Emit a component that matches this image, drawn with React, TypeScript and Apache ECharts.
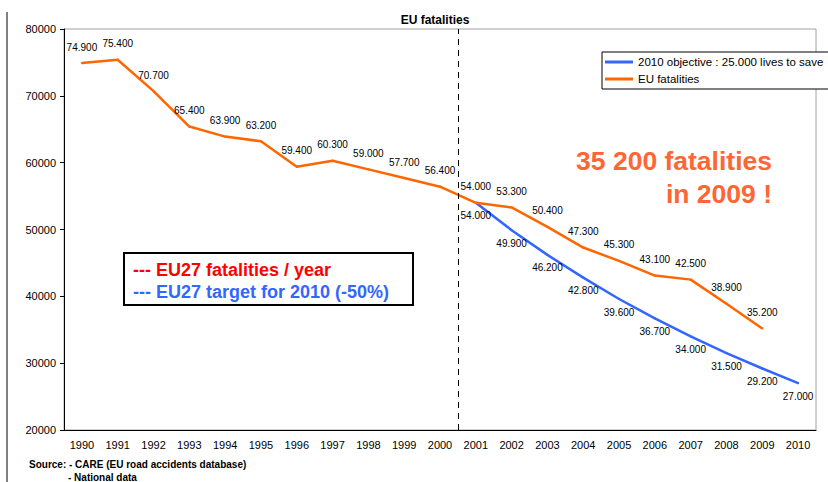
import React, { useEffect, useRef } from "react";
import * as echarts from "echarts";

const years = ["1990","1991","1992","1993","1994","1995","1996","1997","1998","1999","2000","2001","2002","2003","2004","2005","2006","2007","2008","2009","2010"];
const euFatalities: (number | null)[] = [74900,75400,70700,65400,63900,63200,59400,60300,59000,57700,56400,54000,53300,50400,47300,45300,43100,42500,38900,35200,null];
const objective2010: (number | null)[] = [null,null,null,null,null,null,null,null,null,null,null,54000,49900,46200,42800,39600,36700,34000,31500,29200,27000];
const yTicks = { min: 20000, max: 80000, interval: 10000 };

const FONT = '"Liberation Sans", Arial, sans-serif';
const ORANGE = "#ff6600";
const BLUE = "#3366ff";

const fmt = (v: number) => {
  const s = String(Math.round(v));
  return s.length > 3 ? s.slice(0, s.length - 3) + "." + s.slice(s.length - 3) : s;
};

export default function App() {
  const ref = useRef<HTMLDivElement>(null);
  useEffect(() => {
    document.body.style.margin = "0";
    const chart = echarts.init(ref.current!, null, { renderer: "svg" });
    chart.setOption({
      animation: false,
      backgroundColor: "#ffffff",
      textStyle: { fontFamily: FONT },
      title: {
        text: "EU fatalities",
        left: 430,
        top: 9,
        textAlign: "center",
        textStyle: { fontSize: 12, fontWeight: "bold", color: "#000", fontFamily: FONT },
      },
      grid: { left: 64, right: 12, top: 29, bottom: 52, show: true, borderColor: "#a0a0a0", borderWidth: 1 },
      legend: {
        orient: "vertical",
        left: 602,
        top: 52,
        backgroundColor: "#fff",
        borderColor: "#000",
        borderWidth: 1,
        borderRadius: 0,
        padding: [4, 6, 4, 3],
        itemGap: 5,
        itemWidth: 28,
        itemHeight: 3,
        textStyle: { fontSize: 11.5, color: "#000", fontFamily: FONT },
        data: [
          { name: "2010 objective : 25.000 lives to save", icon: "rect", itemStyle: { color: BLUE, opacity: 1 } },
          { name: "EU fatalities", icon: "rect", itemStyle: { color: ORANGE, opacity: 1 } },
        ],
      },
      xAxis: [
        {
          type: "category",
          data: years,
          boundaryGap: true,
          axisLine: { lineStyle: { color: "#000", width: 1 } },
          axisTick: { show: false },
          axisLabel: { fontSize: 11, color: "#000", margin: 9, fontFamily: FONT },
        },
        {
          type: "value",
          min: -0.5,
          max: 20.5,
          show: false,
        },
      ],
      yAxis: {
        type: "value",
        min: yTicks.min,
        max: yTicks.max,
        interval: yTicks.interval,
        axisLine: { show: true, onZero: false, lineStyle: { color: "#000", width: 1 } },
        axisTick: { show: true, length: 4, lineStyle: { color: "#000" } },
        splitLine: { show: false },
        axisLabel: { fontSize: 11, color: "#000", margin: 8, fontFamily: FONT, formatter: (v: number) => String(v) },
      },
      series: [
        {
          name: "2010 objective : 25.000 lives to save",
          type: "line",
          data: objective2010,
          color: BLUE,
          lineStyle: { color: BLUE, width: 2.5 },
          symbol: "circle",
          symbolSize: 2,
          itemStyle: { color: BLUE },
          label: {
            show: true,
            position: "bottom",
            distance: 7,
            fontSize: 10,
            color: "#000",
            fontFamily: FONT,
            formatter: (p: any) => fmt(p.value),
          },
          z: 3,
        },
        {
          name: "EU fatalities",
          type: "line",
          data: euFatalities,
          color: ORANGE,
          lineStyle: { color: ORANGE, width: 2.5 },
          symbol: "circle",
          symbolSize: 2,
          itemStyle: { color: ORANGE },
          label: {
            show: true,
            position: "top",
            distance: 10,
            fontSize: 10,
            color: "#000",
            fontFamily: FONT,
            formatter: (p: any) => fmt(p.value),
          },
          z: 4,
        },
        {
          name: "divider",
          type: "line",
          xAxisIndex: 1,
          data: [],
          markLine: {
            silent: true,
            symbol: "none",
            label: { show: false },
            lineStyle: { color: "#000", type: [6, 5], width: 1 },
            data: [{ xAxis: 10.5 }],
          },
        },
      ],
      graphic: [
        { type: "line", shape: { x1: 7, y1: 12, x2: 7, y2: 482 }, style: { stroke: "#000", lineWidth: 1 } },
        {
          type: "text",
          x: 772,
          y: 174,
          style: { text: "35 200 fatalities", fill: "#ff6633", fontFamily: FONT, fontWeight: "bold", fontSize: 26.5, textAlign: "right", textVerticalAlign: "bottom" },
        },
        {
          type: "text",
          x: 772,
          y: 207,
          style: { text: "in 2009 !", fill: "#ff6633", fontFamily: FONT, fontWeight: "bold", fontSize: 26.5, textAlign: "right", textVerticalAlign: "bottom" },
        },
        {
          type: "rect",
          shape: { x: 124, y: 253, width: 289, height: 52 },
          style: { fill: "#fff", stroke: "#000", lineWidth: 2 },
        },
        {
          type: "text",
          x: 133,
          y: 279,
          style: { text: "--- EU27 fatalities / year", fill: "#ff0000", fontFamily: FONT, fontWeight: "bold", fontSize: 18, textVerticalAlign: "bottom" },
        },
        {
          type: "text",
          x: 133,
          y: 301,
          style: { text: "--- EU27 target for 2010 (-50%)", fill: BLUE, fontFamily: FONT, fontWeight: "bold", fontSize: 18, textVerticalAlign: "bottom" },
        },
        {
          type: "text",
          x: 29,
          y: 469,
          style: { text: "Source: - CARE (EU road accidents database)", fill: "#000", fontFamily: FONT, fontWeight: "bold", fontSize: 10, textVerticalAlign: "bottom" },
        },
        {
          type: "text",
          x: 68,
          y: 482,
          style: { text: "- National data", fill: "#000", fontFamily: FONT, fontWeight: "bold", fontSize: 10, textVerticalAlign: "bottom" },
        },
      ],
    });
    return () => chart.dispose();
  }, []);
  return <div ref={ref} style={{ width: 828, height: 482 }} />;
}
